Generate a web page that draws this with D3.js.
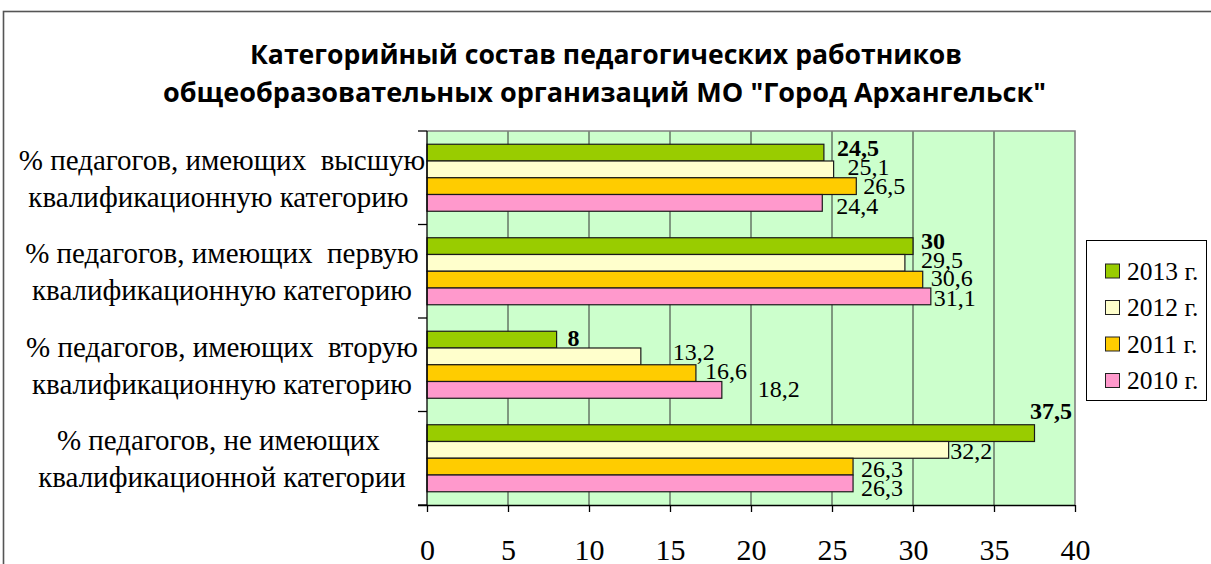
<!DOCTYPE html>
<html>
<head>
<meta charset="utf-8">
<script src="https://cdn.jsdelivr.net/npm/d3@7"></script>
<style>
  html, body { margin: 0; padding: 0; background: #fff; }
  svg { display: block; }
  text { white-space: pre; }
</style>
</head>
<body>
<svg id="chart" width="1211" height="564"></svg>
<script>
// ---- Data ----
const titleLines = [
  "Категорийный состав педагогических работников",
  "общеобразовательных организаций МО \"Город Архангельск\""
];
const categories = [
  ["% педагогов, имеющих  высшую", "квалификационную категорию "],
  ["% педагогов, имеющих  первую", "квалификационную категорию"],
  ["% педагогов, имеющих  вторую", "квалификационную категорию"],
  ["% педагогов, не имеющих ", "квалификационной категории"]
];
const seriesNames = ["2013 г.", "2012 г.", "2011 г.", "2010 г."];
const values2013 = [24.5, 30, 8, 37.5];
const values2012 = [25.1, 29.5, 13.2, 32.2];
const values2011 = [26.5, 30.6, 16.6, 26.3];
const values2010 = [24.4, 31.1, 18.2, 26.3];
const xTicks = [0, 5, 10, 15, 20, 25, 30, 35, 40];

// ---- Styles ----
const seriesValues = [values2013, values2012, values2011, values2010];
const colors = ["#99CC00", "#FFFFCC", "#FFCC00", "#FF99CC"];
// label nudges [dx from bar end, dy from bar centre] (manual placements as in the original)
const labelNudge = [
  [[13, -4], [14, -2], [7, 0], [14, 3.5]],
  [[8, -5], [16, -3], [8, -1.3], [3, 2]],
  [[11, -1], [32, -4.5], [9, -1.8], [36, -1]],
  [[-4.5, -22], [1.5, 1.5], [8, 2.7], [8, 4.5]]
];

const svg = d3.select("#chart");
const serif = "'Liberation Serif', 'Times New Roman', serif";

// outer frame
svg.append("rect")
  .attr("x", 3.5).attr("y", 11.5).attr("width", 1300).attr("height", 700)
  .attr("fill", "#fff").attr("stroke", "#555").attr("stroke-width", 1.6);

// title
const titleX = [[250, 712], [163, 883]];
svg.selectAll("text.title").data(titleLines).join("text")
  .attr("class", "title")
  .attr("x", (d, i) => titleX[i][0])
  .attr("y", (d, i) => 64 + i * 38)
  .attr("textLength", (d, i) => titleX[i][1])
  .attr("lengthAdjust", "spacingAndGlyphs")
  .attr("font-family", "'Liberation Sans Narrow', 'Open Sans', 'Liberation Sans', sans-serif")
  .attr("font-weight", "bold")
  .attr("font-size", 26.5)
  .attr("fill", "#000")
  .text(d => d);

// scales
const x0 = 427, x1 = 1075, yTop = 131, yBot = 505;
const x = d3.scaleLinear().domain([0, 40]).range([x0, x1]);
const y = d3.scaleBand().domain(d3.range(categories.length)).range([yTop, yBot]).padding(0);
const ys = d3.scaleBand().domain(d3.range(seriesNames.length)).range([0, y.bandwidth()])
  .paddingInner(0).paddingOuter(0.79);

// plot background
svg.append("rect")
  .attr("x", x0).attr("y", yTop).attr("width", x1 - x0).attr("height", yBot - yTop)
  .attr("fill", "#CCFFCC");

// gridlines
svg.append("g").selectAll("line").data(xTicks.filter(t => t > 0 && t < 40)).join("line")
  .attr("x1", d => x(d)).attr("x2", d => x(d))
  .attr("y1", yTop).attr("y2", yBot)
  .attr("stroke", "#333").attr("stroke-width", 1);

// plot border top & right
svg.append("path")
  .attr("d", `M${x0},${yTop}H${x1}V${yBot}`)
  .attr("fill", "none").attr("stroke", "#808080").attr("stroke-width", 1.6);

// bars
const bars = [];
categories.forEach((c, ci) => {
  seriesValues.forEach((vals, si) => {
    bars.push({ ci, si, v: vals[ci] });
  });
});
svg.append("g").selectAll("rect").data(bars).join("rect")
  .attr("x", x(0))
  .attr("y", d => y(d.ci) + ys(d.si))
  .attr("width", d => x(d.v) - x(0))
  .attr("height", ys.bandwidth())
  .attr("fill", d => colors[d.si])
  .attr("stroke", "#1a1a1a").attr("stroke-width", 1.2);

// value labels
const fmt = v => String(v).replace(".", ",");
svg.append("g").selectAll("text").data(bars).join("text")
  .attr("x", d => x(d.v) + labelNudge[d.ci][d.si][0])
  .attr("y", d => y(d.ci) + ys(d.si) + ys.bandwidth() / 2 + labelNudge[d.ci][d.si][1] + 7.8)
  .attr("font-family", serif)
  .attr("font-size", 24)
  .attr("font-weight", d => d.si === 0 ? "bold" : "normal")
  .attr("fill", "#000")
  .text(d => fmt(d.v));

// x axis
const xAxis = svg.append("g").attr("transform", `translate(0,${yBot})`)
  .call(d3.axisBottom(x).tickValues(xTicks).tickSize(7).tickSizeOuter(0).tickFormat(d3.format("d")));
xAxis.select(".domain").attr("stroke", "#000").attr("stroke-width", 1.3)
  .attr("d", `M${x0 - 9},0.5H${x1}`);
xAxis.selectAll(".tick line").attr("stroke", "#000").attr("stroke-width", 1.3);
xAxis.selectAll(".tick text")
  .attr("y", 55).attr("dy", 0)
  .attr("font-family", serif).attr("font-size", 30).attr("fill", "#000");

// y axis line + boundary ticks
const bounds = d3.range(categories.length).map(i => y(i)).concat([yBot]);
svg.append("line").attr("x1", x0).attr("x2", x0).attr("y1", yTop).attr("y2", yBot)
  .attr("stroke", "#000").attr("stroke-width", 1.3);
svg.append("g").selectAll("line").data(bounds).join("line")
  .attr("x1", x0 - 9).attr("x2", x0).attr("y1", d => d).attr("y2", d => d)
  .attr("stroke", "#000").attr("stroke-width", 1.3);

// category labels
const catG = svg.append("g");
categories.forEach((lines, ci) => {
  const gc = y(ci) + y.bandwidth() / 2;
  lines.forEach((line, li) => {
    catG.append("text")
      .attr("x", 222)
      .attr("y", gc - 8 + li * 37)
      .attr("text-anchor", "middle")
      .attr("font-family", serif).attr("font-size", 29).attr("fill", "#000")
      .text(line);
  });
});

// legend
const lg = svg.append("g");
lg.append("rect").attr("x", 1086.5).attr("y", 240.5).attr("width", 120).attr("height", 160)
  .attr("fill", "#fff").attr("stroke", "#000").attr("stroke-width", 1);
const items = lg.selectAll("g.item").data(seriesNames).join("g").attr("class", "item")
  .attr("transform", (d, i) => `translate(0,${271.5 + i * 36.5})`);
items.append("rect").attr("x", 1105.5).attr("y", -7.5).attr("width", 14).attr("height", 14)
  .attr("fill", (d, i) => colors[i]).attr("stroke", "#222").attr("stroke-width", 1);
items.append("text").attr("x", 1127).attr("y", 8)
  .attr("font-family", serif).attr("font-size", 25.5).attr("fill", "#000")
  .text(d => d);
</script>
</body>
</html>
